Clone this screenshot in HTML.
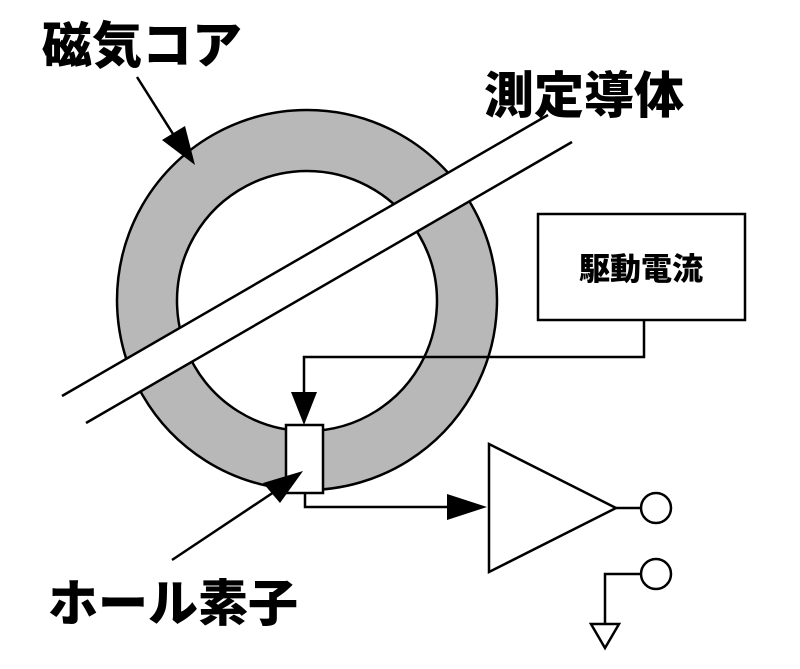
<!DOCTYPE html>
<html><head><meta charset="utf-8"><style>
html,body{margin:0;padding:0;background:#fff;}
svg{display:block}
text{font-family:"Liberation Sans","Noto Sans CJK JP",sans-serif;font-weight:900;fill:#000}
</style></head><body>
<svg width="800" height="669" viewBox="0 0 800 669" xmlns="http://www.w3.org/2000/svg">
<!-- ring -->
<path d="M307,110 a190,190 0 1,0 0.01,0 Z M307,171 a130,130 0 1,1 -0.01,0 Z" fill="#b8b8b8" fill-rule="evenodd" stroke="#000" stroke-width="2.5"/>
<!-- conductor -->
<polygon points="62,396 548,115 572,142 86,423" fill="#fff"/>
<line x1="62" y1="396" x2="548" y2="115" stroke="#000" stroke-width="2.5"/>
<line x1="86" y1="423" x2="572" y2="142" stroke="#000" stroke-width="2.5"/>
<!-- hall element -->
<rect x="286" y="425" width="37" height="68" fill="#fff" stroke="#000" stroke-width="2.5"/>
<!-- drive box -->
<rect x="538" y="214" width="207" height="106" fill="#fff" stroke="#000" stroke-width="2.5"/>
<text x="641" y="280" font-size="31" text-anchor="middle">駆動電流</text>
<polyline points="644,320 644,357 304,357 304,395" fill="none" stroke="#000" stroke-width="2.5"/>
<polygon points="291,392 317,392 304,425" fill="#000"/>
<!-- output wire -->
<polyline points="305,493 305,507 452,507" fill="none" stroke="#000" stroke-width="2.5"/>
<polygon points="447,494 487,507 447,520" fill="#000"/>
<!-- amp -->
<polygon points="489,444 489,572 616,508" fill="#fff" stroke="#000" stroke-width="2.5"/>
<line x1="616" y1="508" x2="641" y2="508" stroke="#000" stroke-width="2.5"/>
<circle cx="656" cy="508" r="15" fill="#fff" stroke="#000" stroke-width="2.5"/>
<circle cx="656" cy="574" r="15" fill="#fff" stroke="#000" stroke-width="2.5"/>
<polyline points="641,574 605,574 605,624" fill="none" stroke="#000" stroke-width="2.5"/>
<polygon points="591,624 619,624 605,648" fill="#fff" stroke="#000" stroke-width="2.5"/>
<!-- label arrows -->
<line x1="137" y1="77" x2="180" y2="145" stroke="#000" stroke-width="2.5"/>
<polygon points="162,140 185,126 195,165" fill="#000"/>
<line x1="172" y1="560" x2="280" y2="488" stroke="#000" stroke-width="2.5"/>
<polygon points="263,483 280,503 303,471" fill="#000"/>
<!-- labels -->
<text x="42" y="63" font-size="50">磁気コア</text>
<text x="484" y="113" font-size="50">測定導体</text>
<text x="48" y="621" font-size="50">ホール素子</text>
</svg>
</body></html>
